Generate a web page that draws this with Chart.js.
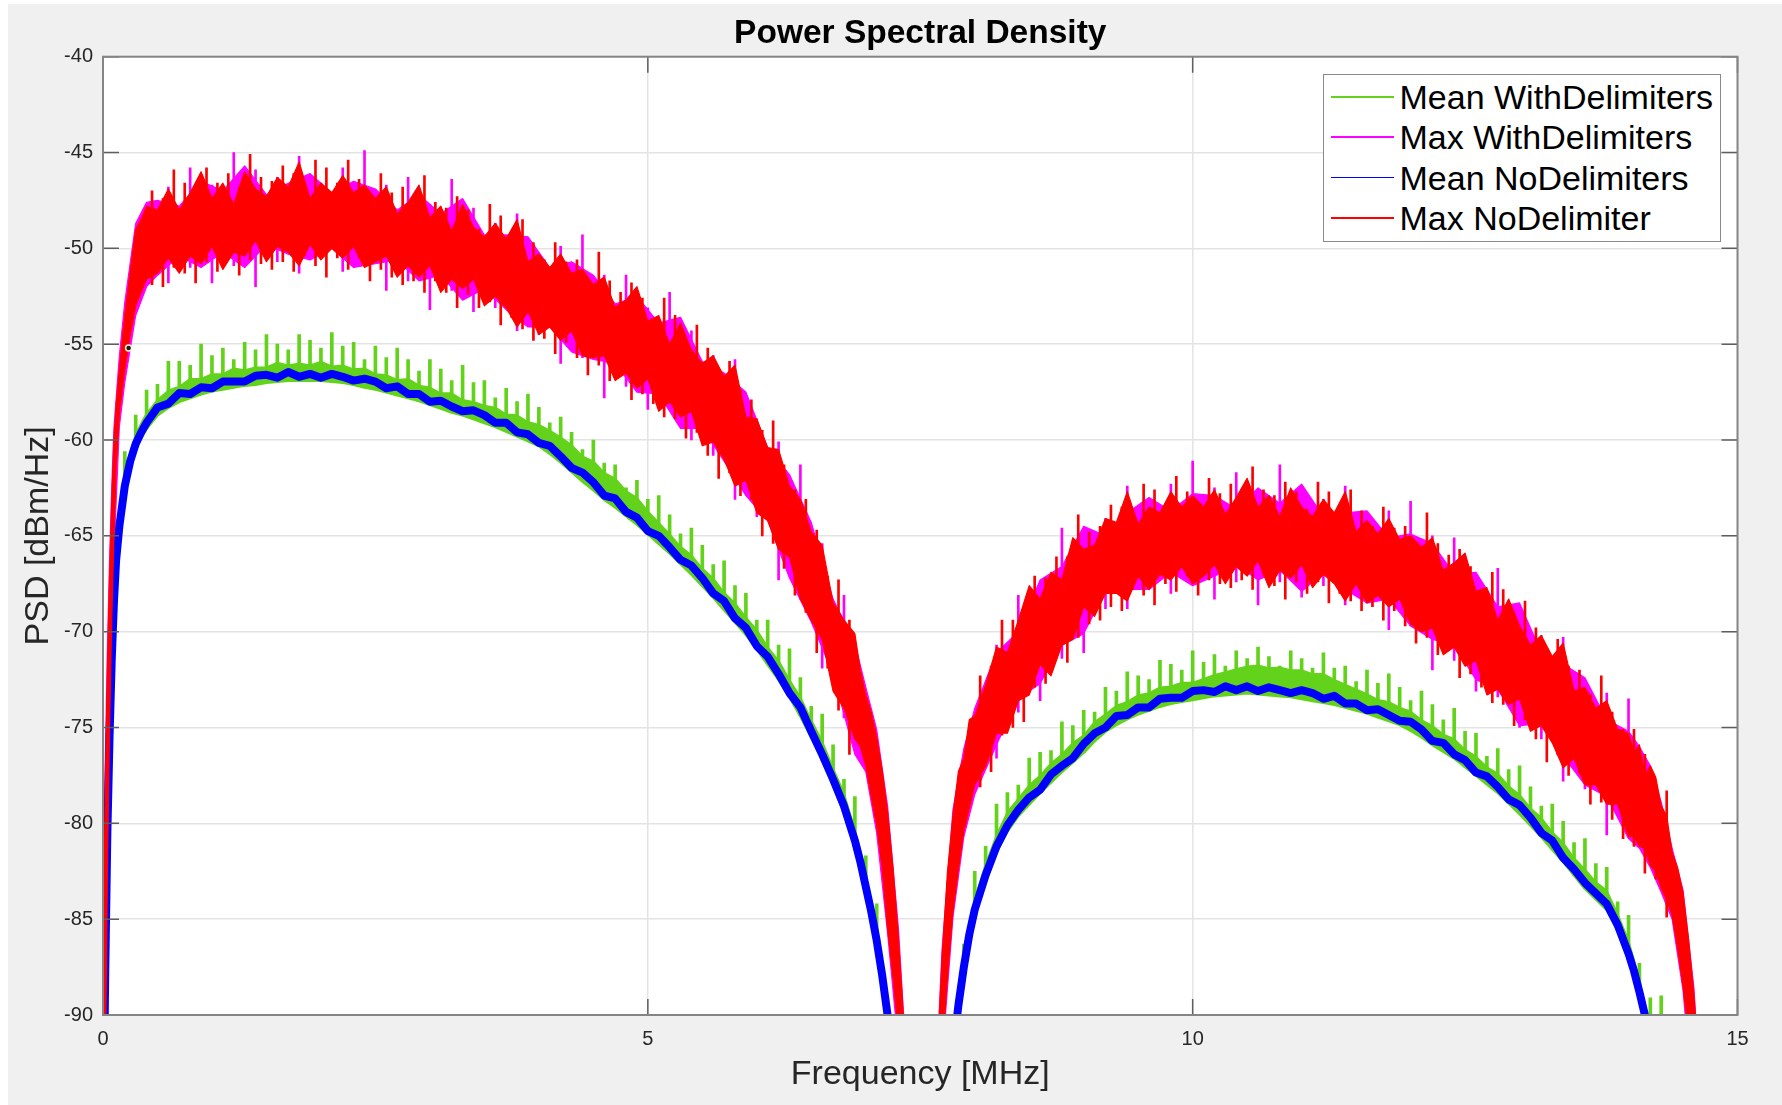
<!DOCTYPE html>
<html>
<head>
<meta charset="utf-8">
<script src="https://cdn.jsdelivr.net/npm/chart.js@4.4.1/dist/chart.umd.min.js"></script>
<style>
  html, body { margin: 0; padding: 0; background: #ffffff; }
  #fig { position: absolute; left: 8px; top: 4px; width: 1774px; height: 1101px; background: #f0f0f0; }
  #c { position: absolute; left: 0; top: 0; }
  #legend { position: absolute; left: 1323px; top: 74px; width: 396px; height: 166px; background: #ffffff;
            border: 1.5px solid #8a8a8a; font-family: 'Liberation Sans', Arial, Helvetica, sans-serif; font-size: 34px; color: #000; }
  .lrow { position: absolute; left: 0; width: 100%; height: 40px; }
  .lline { position: absolute; left: 6.5px; width: 63px; top: 19px; height: 1.6px; }
  .ltext { position: absolute; left: 75.5px; top: 0; line-height: 40px; white-space: nowrap; }
</style>
</head>
<body>
<div id="fig"></div>
<canvas id="c" width="1782" height="1105"></canvas>
<div id="legend"></div>
<script>
// ---------------- data ----------------
const freq = [
  0,0.02,0.04,0.06,0.08,0.1,0.12,0.15,0.2,0.25,0.3,0.35,0.4,
  0.5,0.6,0.7,0.8,0.9,1,1.1,1.2,1.3,1.4, 1.5,1.6,1.7,1.8,1.9,2,2.1,2.2,2.3,2.4,
  2.5,2.6,2.7,2.8,2.9,3,3.1,3.2,3.3,3.4, 3.5,3.6,3.7,3.8,3.9,4,4.1,4.2,4.3,4.4,
  4.5,4.6,4.7,4.8,4.9,5,5.1,5.2,5.3,5.4, 5.5,5.6,5.7,5.8,5.9,6,6.1,6.2,6.3,6.4,
  6.5,6.6,6.7,6.8,6.9,
  6.95,7,7.05,7.1,7.15,7.2,7.25,7.3,7.35,7.4,
  7.5,
  7.6,7.65,7.7,7.75,7.8,7.85,7.9,7.95,8,
  8.1,8.2,8.3,8.4,8.5,8.6,8.7,8.8,8.9,9, 9.1,9.2,9.3,9.4,9.5,9.6,9.7,9.8,9.9,10,
  10.1,10.2,10.3,10.4,10.5,10.6,10.7,10.8,10.9,11, 11.1,11.2,11.3,11.4,11.5,11.6,11.7,11.8,11.9,12,
  12.1,12.2,12.3,12.4,12.5,12.6,12.7,12.8,12.9,13, 13.1,13.2,13.3,13.4,13.5,13.6,13.7,13.8,13.9,14,
  14.05,14.1,14.15,14.2,14.25,14.3,14.35,14.4,14.45,14.5,14.55,14.6,14.65,14.7,
  14.8
];

// Max NoDelimiter : upper and lower edge of the noisy red trace
const maxNoHi = [
  -87.5,-78.6,-72.0,-67.1,-63.2,-60.0,-58.2,-56.3,-53.5,-51.2,-49.0,-48.5,-47.8,
  -48.0,-46.9,-48.0,-47.1,-46.0,-47.4,-46.6,-47.7,-46.0,-46.9,
  -47.3,-46.3,-46.8,-45.5,-47.4,-46.6,-47.1,-46.2,-47.1,-46.7,
  -47.4,-46.8,-48.2,-47.6,-46.7,-48.4,-47.8,-49.1,-47.7,-48.9,
  -49.4,-48.7,-49.5,-48.5,-50.7,-50.3,-51.0,-50.3,-51.3,-51.1,
  -51.9,-51.5,-53.1,-52.7,-52.0,-53.8,-53.5,-55.0,-53.9,-55.3,
  -56.0,-55.6,-56.7,-56.1,-58.8,-58.9,-60.4,-60.5,-62.4,-63.1,
  -64.8,-65.5,-68.5,-69.4,-70.1,
  -72.0,-73.3,-74.2,-75.5,-77.2,-79.4,-82.3,-86.0,-90.5,-95.5,
  -115,
  -100,-93,-87.0,-82.5,-79.6,-77.3,-76.6,-74.6,-74.4,
  -72.8,-70.8,-71.1,-69.4,-67.6,-68.3,-66.9,-67.3,-65.1,-65.7,
  -65.5,-64.1,-64.3,-62.7,-64.4,-63.5,-63.8,-62.7,-63.5,-62.9,
  -63.5,-62.6,-63.9,-63.0,-62.0,-63.5,-62.9,-64.0,-62.5,-63.5,
  -64.0,-63.1,-63.8,-62.7,-64.8,-64.2,-64.9,-64.1,-65.2,-65.0,
  -65.6,-65.1,-66.8,-66.4,-65.9,-67.9,-67.7,-69.4,-68.3,-69.7,
  -70.7,-70.2,-71.3,-70.6,-73.1,-72.9,-74.0,-73.6,-75.1,-75.3,
  -76.3,-75.9,-77.5,-77.0,-77.6,-79.1,-79.6,-81.5,-82.3,-83.6,-86.0,-88.9,-93.0,-98,
  -110
];
const maxNoLo = [
  -100,-93,-82.9,-75,-69.4,-65.1,-61.5,-58.6,-56.3,-54.5,-53.0,-52.3,-51.6,
  -51.3,-50.5,-51.3,-50.4,-50.8,-49.9,-51.1,-50.2,-50.4,-49.6,
  -50.7,-49.9,-50.2,-50.9,-49.8,-50.6,-50.0,-50.5,-49.9,-51.0,
  -50.7,-50.4,-51.5,-50.9,-51.5,-50.9,-52.3,-51.6,-52.1,-51.6,
  -53.0,-52.5,-53.1,-54.1,-53.3,-54.5,-54.1,-54.8,-54.3,-55.6,
  -55.7,-55.6,-56.9,-56.5,-57.3,-56.8,-58.5,-58.0,-58.8,-58.5,
  -60.3,-60.1,-61.0,-62.4,-62.1,-63.8,-64.2,-65.7,-66.1,-68.3,
  -69.4,-70.4,-73.1,-74.0,-75.6,
  -76.0,-77.0,-78.6,-80.1,-82.3,-85.5,-88.0,-91.0,-98,-104,
  -120,
  -110,-100,-92.0,-88.0,-84.6,-82.4,-80.4,-79.2,-78.0,
  -77.0,-75.3,-75.3,-73.6,-73.3,-71.7,-72.3,-70.7,-70.4,-68.7,
  -69.2,-68.0,-68.0,-68.4,-67.1,-67.8,-67.0,-67.3,-66.6,-67.5,
  -67.1,-66.5,-67.5,-66.6,-67.1,-66.3,-67.7,-66.8,-67.2,-66.5,
  -67.7,-67.0,-67.5,-68.4,-67.5,-68.5,-68.1,-68.7,-68.3,-69.6,
  -70.0,-69.8,-71.2,-70.8,-71.8,-71.5,-73.3,-73.0,-73.8,-73.5,
  -75.2,-74.9,-75.8,-77.1,-76.6,-78.0,-78.0,-79.0,-79.0,-80.7,
  -80.7,-81.2,-81.3,-82.2,-82.5,-83.4,-84.0,-84.8,-86.5,-88.5,-91.0,-95.0,-100,-105,
  -115
];
// Max NoDelimiter : individual noise spikes (low end, high end) between the samples above
const redSpikeFreq = [
  0.45,0.55,0.65,0.75,0.85,0.95,1.05,1.15,1.25,1.35,1.45,1.55,1.65,1.75,1.85,1.95,
  2.05,2.15,2.25,2.35,2.45,2.55,2.65,2.75,2.85,2.95,3.05,3.15,3.25,3.35,3.45,3.55,
  3.65,3.75,3.85,3.95,4.05,4.15,4.25,4.35,4.45,4.55,4.65,4.75,4.85,4.95,5.05,5.15,
  5.25,5.35,5.45,5.55,5.65,5.75,5.85,5.95,6.05,6.15,6.25,6.35,6.45,6.55,6.65,6.75,6.85,
  8.05,8.15,8.25,8.35,8.45,8.55,8.65,8.75,8.85,8.95,9.05,9.15,9.25,9.35,9.45,9.55,
  9.65,9.75,9.85,9.95,10.05,10.15,10.25,10.35,10.45,10.55,10.65,10.75,10.85,10.95,11.05,11.15,
  11.25,11.35,11.45,11.55,11.65,11.75,11.85,11.95,12.05,12.15,12.25,12.35,12.45,12.55,12.65,12.75,
  12.85,12.95,13.05,13.15,13.25,13.35,13.45,13.55,13.65,13.75,13.85,13.95,14.05,14.15,14.25,14.35
];
const redSpikeHi = [
  -47.0,-47.4,-45.9,-46.6,-47.1,-45.8,-46.6,-46.1,-46.8,-45.1,-46.3,-46.5,-45.7,-46.1,-46.9,-45.4,
  -45.8,-46.6,-45.4,-46.4,-47.2,-46.1,-47.1,-46.8,-47.7,-46.2,-47.6,-47.9,-47.3,-48.0,-49.0,-47.7,
  -48.3,-49.4,-48.5,-49.7,-50.6,-49.7,-50.7,-50.6,-51.6,-50.2,-51.7,-52.3,-51.8,-52.6,-53.7,-52.6,
  -53.5,-54.8,-54.0,-55.2,-56.4,-55.9,-57.4,-57.9,-59.5,-59.0,-61.3,-62.6,-63.1,-64.7,-67.1,-67.3,-69.4,
  -72.3,-71.8,-69.4,-69.4,-69.1,-67.1,-67.2,-66.1,-66.1,-63.9,-64.8,-64.5,-63.4,-63.5,-64.0,-62.3,
  -62.6,-63.3,-61.9,-62.7,-63.3,-62.0,-62.8,-62.3,-63.0,-61.4,-62.6,-62.9,-62.2,-62.7,-63.6,-62.2,
  -62.7,-63.7,-62.6,-63.7,-64.5,-63.5,-64.6,-64.5,-65.5,-63.8,-65.4,-66.0,-65.7,-66.6,-67.9,-66.9,
  -67.8,-69.2,-68.4,-69.8,-71.0,-70.4,-71.8,-72.0,-73.3,-72.3,-74.2,-75.1,-75.1,-76.4,-78.3,-78.3
];
const redSpikeLo = [
  -51.9,-52.0,-51.0,-51.3,-51.8,-50.7,-51.2,-50.4,-51.4,-50.6,-50.8,-51.1,-50.7,-51.2,-50.4,-50.9,
  -51.5,-50.5,-51.1,-50.5,-51.7,-51.1,-51.5,-51.9,-51.7,-52.3,-51.7,-52.3,-53.1,-52.4,-53.1,-52.8,
  -54.0,-53.6,-54.2,-54.8,-54.7,-55.5,-54.9,-55.7,-56.6,-56.1,-56.9,-56.6,-57.9,-57.6,-58.1,-58.8,
  -58.9,-59.9,-59.6,-60.8,-62.0,-61.7,-62.9,-63.1,-65.0,-65.4,-66.7,-68.1,-69.0,-71.1,-71.9,-74.1,-76.4,
  -78.1,-77.3,-75.4,-75.0,-74.7,-72.9,-72.7,-71.3,-71.6,-70.3,-69.6,-69.4,-68.7,-68.9,-67.8,-68.1,
  -68.6,-67.5,-67.9,-67.1,-68.1,-67.3,-67.5,-67.7,-67.3,-67.8,-67.0,-67.6,-68.3,-67.4,-68.0,-67.4,
  -68.5,-68.0,-68.4,-68.9,-68.7,-69.4,-68.9,-69.7,-70.6,-70.3,-71.2,-70.9,-72.4,-72.2,-72.9,-73.7,
  -73.8,-74.9,-74.6,-75.6,-76.8,-76.4,-77.5,-77.4,-79.0,-78.9,-79.8,-80.8,-81.2,-82.6,-82.9,-84.9
];

// Mean NoDelimiters (blue)
const meanNo = [
  -98,-88,-80.5,-75.5,-71.5,-68.5,-66.3,-64.5,-62.4,-61.1,-60.2,-59.6,-59.1,
  -58.3,-58.1,-57.55,-57.6,-57.25,-57.3,-56.95,-56.95,-56.95,-56.65,
  -56.6,-56.75,-56.45,-56.7,-56.55,-56.75,-56.55,-56.7,-56.9,-56.8,
  -56.95,-57.3,-57.2,-57.6,-57.6,-58.0,-57.95,-58.25,-58.5,-58.45,
  -58.7,-59.1,-59.1,-59.6,-59.7,-60.15,-60.3,-60.85,-61.45,-61.7,
  -62.2,-62.9,-63.05,-63.75,-64.05,-64.75,-65.0,-65.6,-66.25,-66.55,
  -67.2,-68.0,-68.4,-69.3,-69.8,-70.75,-71.3,-72.2,-73.2,-73.95,
  -75.2,-76.4,-77.7,-79.1,-80.9,
  -82.0,-83.3,-84.6,-86.1,-87.9,-90,-92.5,-95.5,-99,-103,
  -120,
  -118,-106,-99,-95.5,-92,-89.5,-87.5,-85.8,-84.5,
  -82.7,-81.2,-80.1,-79.3,-78.65,-78.25,-77.45,-77.0,-76.6,-75.85,
  -75.3,-75.0,-74.4,-74.35,-73.95,-73.95,-73.5,-73.45,-73.45,-73.1,
  -73.05,-73.15,-72.85,-73.05,-72.85,-73.1,-72.9,-73.05,-73.2,-73.05,
  -73.2,-73.5,-73.35,-73.75,-73.75,-74.1,-74.05,-74.35,-74.65,-74.7,
  -75.1,-75.7,-75.8,-76.4,-76.7,-77.35,-77.55,-78.1,-78.75,-79.05,
  -79.7,-80.5,-80.9,-81.8,-82.4,-83.1,-83.65,-84.2,-85.3,-86.8,
  -87.7,-88.8,-90,-91.3,-92.8,-94.5,-96.5,-98.5,-101,-104,-107,-110,-113,-116,
  -120
];

// Mean WithDelimiters (green): floor and top of the dense part of the trace
const meanWithBase = [
  -98.3,-88.3,-80.8,-75.8,-71.8,-68.8,-66.6,-64.8,-62.7,-61.4,-60.5,-59.9,-59.4,
  -58.7,-58.3,-58.0,-57.8,-57.6,-57.45,-57.35,-57.25,-57.15,-57.1,
  -57.0,-56.95,-56.9,-56.9,-56.9,-56.9,-56.95,-57.0,-57.1,-57.25,
  -57.35,-57.5,-57.65,-57.8,-57.95,-58.15,-58.35,-58.55,-58.7,-58.9,
  -59.1,-59.3,-59.55,-59.8,-60.05,-60.3,-60.7,-61.15,-61.65,-62.15,
  -62.6,-63.1,-63.5,-63.95,-64.4,-64.9,-65.4,-65.9,-66.45,-67.0,
  -67.6,-68.2,-68.85,-69.5,-70.15,-70.9,-71.7,-72.5,-73.4,-74.4,
  -75.5,-76.7,-78.0,-79.4,-81.2,
  -82.3,-83.6,-84.9,-86.4,-88.2,-90.3,-92.8,-95.8,-99.3,-103.3,
  -120,
  -118,-106.3,-99.3,-95.8,-92.3,-89.8,-87.8,-86.1,-84.8,
  -83.0,-81.5,-80.4,-79.6,-79.0,-78.4,-77.85,-77.3,-76.8,-76.3,
  -75.7,-75.2,-74.85,-74.55,-74.3,-74.1,-73.9,-73.75,-73.65,-73.55,
  -73.45,-73.35,-73.3,-73.25,-73.2,-73.25,-73.3,-73.35,-73.4,-73.5,
  -73.6,-73.7,-73.8,-73.95,-74.1,-74.25,-74.45,-74.65,-74.85,-75.15,
  -75.5,-75.9,-76.25,-76.6,-77.05,-77.5,-77.95,-78.4,-78.95,-79.5,
  -80.1,-80.7,-81.35,-82.0,-82.7,-83.4,-83.95,-84.5,-85.6,-87.1,
  -88.0,-89.1,-90.3,-91.6,-93.1,-94.8,-96.8,-98.8,-101.3,-104.3,-107.3,-110.3,-113.3,-116.3,
  -120
];
const meanWithTop = [
  -97.5,-87.5,-80.0,-75.0,-71.0,-68.0,-65.8,-64.0,-61.9,-60.6,-59.7,-59.1,-58.6,
  -57.9,-57.4,-57.2,-56.8,-56.8,-56.55,-56.55,-56.25,-56.35,-56.2,
  -56.2,-55.95,-56.1,-56.0,-56.1,-55.9,-56.15,-56.1,-56.3,-56.25,
  -56.55,-56.6,-56.85,-56.8,-57.15,-57.25,-57.55,-57.55,-57.9,-58.0,
  -58.2,-58.3,-58.65,-58.7,-59.05,-59.2,-59.5,-59.85,-60.25,-60.85,
  -61.1,-61.7,-62.0,-62.65,-63.0,-63.7,-64.3,-64.9,-65.55,-66.0,
  -66.7,-67.2,-67.95,-68.5,-69.25,-69.9,-70.8,-71.5,-72.5,-73.4,
  -74.6,-75.7,-77.1,-78.4,-80.3,
  -81.4,-82.7,-84.0,-85.5,-87.3,-89.4,-91.9,-94.9,-98.4,-102.4,
  -120,
  -118,-105.4,-98.4,-94.9,-91.4,-88.9,-86.9,-85.2,-83.9,
  -82.1,-80.6,-79.4,-78.7,-78.0,-77.5,-76.85,-76.4,-75.8,-75.4,
  -74.7,-74.3,-73.85,-73.65,-73.3,-73.2,-72.9,-72.85,-72.65,-72.65,
  -72.45,-72.25,-72.1,-71.95,-71.8,-71.75,-71.9,-71.85,-72.0,-72.0,
  -72.2,-72.2,-72.5,-72.75,-73.0,-73.25,-73.55,-73.65,-73.95,-74.15,
  -74.6,-74.9,-75.35,-75.6,-76.15,-76.5,-77.05,-77.4,-78.05,-78.5,
  -79.2,-79.7,-80.45,-81.0,-81.8,-82.4,-83.05,-83.5,-84.7,-86.1,
  -87.1,-88.2,-89.4,-90.7,-92.2,-93.9,-95.9,-97.9,-100.4,-103.4,-106.4,-109.4,-112.4,-115.4,
  -120
];

// Mean WithDelimiters (green): periodic comb spikes
const spikeFreq = [
  0.2,0.3,0.4,
  0.5,0.6,0.7,0.8,0.9,1,1.1,1.2,1.3,1.4, 1.5,1.6,1.7,1.8,1.9,2,2.1,2.2,2.3,2.4,
  2.5,2.6,2.7,2.8,2.9,3,3.1,3.2,3.3,3.4, 3.5,3.6,3.7,3.8,3.9,4,4.1,4.2,4.3,4.4,
  4.5,4.6,4.7,4.8,4.9,5,5.1,5.2,5.3,5.4, 5.5,5.6,5.7,5.8,5.9,6,6.1,6.2,6.3,6.4,
  6.5,6.6,6.7,6.8,6.9,7,7.1,
  7.9,8,
  8.1,8.2,8.3,8.4,8.5,8.6,8.7,8.8,8.9,9, 9.1,9.2,9.3,9.4,9.5,9.6,9.7,9.8,9.9,10,
  10.1,10.2,10.3,10.4,10.5,10.6,10.7,10.8,10.9,11, 11.1,11.2,11.3,11.4,11.5,11.6,11.7,11.8,11.9,12,
  12.1,12.2,12.3,12.4,12.5,12.6,12.7,12.8,12.9,13, 13.1,13.2,13.3,13.4,13.5,13.6,13.7,13.8,13.9,14,
  14.1,14.2,14.3
];
const spikeTop = [
  -60.6,-58.7,-57.4,
  -57.1,-55.9,-55.9,-56.1,-55.0,-55.6,-55.2,-55.8,-54.9,-55.3,
  -54.5,-55.0,-55.3,-54.5,-54.8,-55.2,-54.4,-55.1,-54.9,-55.8,
  -55.1,-55.7,-55.2,-55.8,-56.4,-55.8,-56.3,-56.9,-56.1,-57.0,
  -56.9,-57.8,-57.3,-58.0,-57.6,-58.3,-59.1,-58.8,-59.6,-60.5,
  -60.0,-61.2,-61.3,-62.5,-62.1,-63.1,-62.9,-63.9,-64.9,-64.6,
  -65.5,-66.5,-66.3,-67.6,-68.0,-69.4,-69.4,-70.7,-70.9,-72.4,
  -73.9,-74.3,-75.9,-77.7,-78.6,-81.7,-84.2,
  -86.3,-82.5,
  -81.2,-79.0,-78.4,-78.0,-76.6,-76.3,-76.2,-74.7,-74.9,-74.1,
  -74.2,-72.9,-73.1,-72.1,-72.3,-72.5,-71.5,-71.7,-72.0,-71.0,
  -71.6,-71.2,-71.8,-71.0,-71.4,-70.8,-71.3,-71.8,-71.0,-71.4,
  -71.9,-71.1,-71.9,-71.8,-72.6,-72.0,-72.7,-72.2,-72.9,-73.6,
  -73.1,-73.8,-74.6,-74.0,-75.2,-75.3,-76.5,-76.1,-77.2,-77.0,
  -78.1,-79.1,-79.0,-79.9,-81.0,-80.8,-82.1,-82.3,-84.1,-84.8,
  -87.3,-89.1,-89.0
];

// Max WithDelimiters (magenta): upper and lower edge, on its own coarser grid
const magFreq = [
  0,0.02,0.04,0.06,0.08,0.1,0.15,0.2,0.3,0.4,0.5,
  0.7,0.9,1.1,1.3,1.5,1.7,1.9,2.1,2.3,2.5,2.7,2.9,3.1,3.3,3.5,3.7,3.9,4.1,4.3,4.5,
  4.7,4.9,5.1,5.3,5.5,5.7,5.9,6.1,6.3,6.5,6.7,6.9,
  7,7.1,7.2,7.3,7.4,7.5,7.6,7.7,7.8,7.9,8,
  8.2,8.4,8.6,8.8,9,9.2,9.4,9.6,9.8,10,10.2,10.4,10.6,10.8,11,
  11.2,11.4,11.6,11.8,12,12.2,12.4,12.6,12.8,13,13.2,13.4,13.6,13.8,14,
  14.1,14.2,14.3,14.4,14.5,14.6,14.7,14.8
];
const maxWithHi = [
  -86,-77,-71,-66.3,-62.5,-59.4,-55.6,-52.8,-48.7,-47.6,-47.5,
  -47.8,-46.5,-47.0,-45.7,-47.2,-46.6,-46.1,-47.1,-46.5,-46.9,-48.0,-47.2,-48.2,-47.4,-49.3,-49.3,-49.4,-51.0,-50.7,-51.4,
  -52.9,-52.5,-53.9,-53.6,-55.9,-56.5,-57.5,-60.4,-61.8,-64.3,-68.3,-70.6,
  -72.9,-75.1,-79.1,-85.5,-95,-115,-99,-86.6,-79.3,-76.1,-74.0,
  -71.1,-70.0,-67.3,-66.6,-64.5,-65.0,-63.8,-63.0,-63.7,-62.8,-62.9,-63.6,-62.5,-63.3,-62.3,
  -64.0,-63.8,-63.7,-65.1,-64.9,-65.4,-67.0,-66.9,-68.7,-68.5,-71.1,-71.7,-72.4,-74.6,-75.2,
  -76.0,-77.0,-78.9,-81.3,-83.5,-88.6,-97.5,-110
];
const maxWithLo = [
  -100,-96,-85,-76,-70.5,-66,-59.3,-57.0,-53.5,-52.0,-51.4,
  -50.4,-51.0,-50.2,-51.0,-49.8,-50.3,-50.6,-50.0,-51.0,-50.8,-50.6,-51.7,-51.4,-52.7,-52.1,-53.2,-54.1,-54.1,-55.4,-55.8,
  -56.0,-57.5,-57.6,-59.4,-59.4,-61.1,-62.9,-64.2,-67.2,-69.5,-72.2,-76.4,
  -77.3,-80.5,-85.7,-91.7,-104,-120,-110,-92.3,-84.9,-80.7,-78.5,
  -75.9,-73.5,-72.7,-70.7,-70.1,-67.9,-67.8,-67.8,-66.9,-67.6,-67.1,-66.5,-67.3,-66.8,-67.9,
  -66.9,-67.8,-68.5,-68.3,-69.7,-70.4,-70.7,-72.5,-73.0,-74.9,-74.8,-76.5,-78.0,-78.6,-80.8,
  -81.3,-82.3,-83.6,-85.0,-88.7,-95.2,-106,-116
];
// Max WithDelimiters : individual noise spikes
const magSpikeFreq = [
  0.6,0.8,1,1.2,1.4,1.6,1.8,2,2.2,2.4,2.6,2.8,3,3.2,3.4,3.6,3.8,4,4.2,4.4,4.6,4.8,5,5.2,5.4,5.6,5.8,6,6.2,6.4,6.6,6.8,
  8.2,8.4,8.6,8.8,9,9.2,9.4,9.6,9.8,10,10.2,10.4,10.6,10.8,11,11.2,11.4,11.6,11.8,12,12.2,12.4,12.6,12.8,13,13.2,13.4,13.6,13.8,14
];
const magSpikeHi = [
  -46.8,-45.8,-46.7,-45.0,-45.9,-46.3,-45.2,-46.6,-45.8,-44.9,-46.7,-46.3,-47.7,-46.4,-47.9,-48.7,
  -48.2,-50.3,-49.9,-49.3,-51.4,-51.4,-53.1,-52.3,-54.3,-55.6,-55.8,-58.9,-60.1,-61.3,-65.4,-68.1,
  -70.7,-68.1,-67.6,-64.6,-64.7,-64.1,-62.4,-63.5,-62.3,-61.1,-62.5,-61.7,-62.8,-61.3,-62.5,
  -63.1,-62.4,-64.2,-63.7,-63.2,-65.0,-65.1,-67.2,-66.7,-68.7,-70.2,-70.3,-72.9,-73.2,-73.5
];
const magSpikeLo = [
  -51.8,-51.0,-51.8,-50.9,-52.0,-50.7,-51.3,-50.5,-51.2,-50.9,-52.2,-51.7,-53.2,-52.2,-53.3,-53.1,
  -54.3,-54.5,-56.0,-55.7,-57.8,-57.2,-58.4,-58.4,-60.0,-60.8,-63.1,-64.0,-67.3,-68.3,-71.9,-74.5,
  -76.6,-74.2,-73.6,-71.4,-71.1,-68.8,-68.8,-67.7,-68.0,-67.4,-68.3,-67.4,-68.6,-67.4,-68.2,
  -67.6,-68.6,-68.5,-69.9,-69.7,-72.0,-71.5,-73.1,-73.4,-75.0,-75.6,-77.8,-78.2,-80.6,-80.7
];

// data tip marker on the red trace
const tipFreq = [0.235];
const tipPSD = [-55.2];

const xTicks = [0, 5, 10, 15];
const yTicks = [-90, -85, -80, -75, -70, -65, -60, -55, -50, -45, -40];

const seriesNames = ['Mean WithDelimiters', 'Max WithDelimiters', 'Mean NoDelimiters', 'Max NoDelimiter'];

// ---------------- styles ----------------
const GREEN = '#62d31a', MAGENTA = '#ff00ff', BLUE = '#0000ff', RED = '#ff0000';
const FONT = "'Liberation Sans', Arial, Helvetica, sans-serif";

const pts = (xs, ys) => xs.map((x, i) => ({ x: x, y: ys[i] }));
const bars = (xs, lo, hi) => xs.map((x, i) => ({ x: x, y: [lo[i], hi[i]] }));
const spikeData = spikeFreq.map((f, i) => ({ x: f, y: [meanWithBase[freq.indexOf(f)], spikeTop[i]] }));

const lineBase = { type: 'line', pointRadius: 0, pointHoverRadius: 0, pointHitRadius: 0, tension: 0,
                   borderJoinStyle: 'round', borderCapStyle: 'round', fill: false };
const barBase = { type: 'bar', borderWidth: 0, grouped: false };

const datasets = [
  /*0*/ Object.assign({}, barBase, { label: '_gSpikes', data: spikeData, backgroundColor: GREEN, barThickness: 3, order: 6 }),
  /*1*/ Object.assign({}, lineBase, { label: seriesNames[0], data: pts(freq, meanWithBase), borderColor: GREEN, borderWidth: 3, order: 5 }),
  /*2*/ Object.assign({}, lineBase, { label: '_greenTop', data: pts(freq, meanWithTop), borderColor: GREEN, borderWidth: 1.5,
          fill: 1, backgroundColor: GREEN, order: 5 }),
  /*3*/ Object.assign({}, lineBase, { label: '_magLo', data: pts(magFreq, maxWithLo), borderColor: MAGENTA, borderWidth: 1.2, order: 4 }),
  /*4*/ Object.assign({}, lineBase, { label: seriesNames[1], data: pts(magFreq, maxWithHi), borderColor: MAGENTA, borderWidth: 1.2,
          fill: 3, backgroundColor: MAGENTA, order: 4 }),
  /*5*/ Object.assign({}, barBase, { label: '_mSpikes', data: bars(magSpikeFreq, magSpikeLo, magSpikeHi), backgroundColor: MAGENTA,
          barThickness: 2, order: 4 }),
  /*6*/ Object.assign({}, lineBase, { label: seriesNames[2], data: pts(freq, meanNo), borderColor: BLUE, borderWidth: 8, order: 3 }),
  /*7*/ Object.assign({}, lineBase, { label: '_redLo', data: pts(freq, maxNoLo), borderColor: RED, borderWidth: 1.2, order: 2 }),
  /*8*/ Object.assign({}, lineBase, { label: seriesNames[3], data: pts(freq, maxNoHi), borderColor: RED, borderWidth: 1.2,
          fill: 7, backgroundColor: RED, order: 2 }),
  /*9*/ Object.assign({}, barBase, { label: '_rSpikes', data: bars(redSpikeFreq, redSpikeLo, redSpikeHi), backgroundColor: RED,
          barThickness: 2, order: 2 }),
  /*10*/ Object.assign({}, lineBase, { label: '_tip', data: pts(tipFreq, tipPSD), showLine: false, pointRadius: 3,
          pointBackgroundColor: '#1b1b1b', pointBorderColor: '#fff6cf', pointBorderWidth: 1.5, order: 1 })
];

const plotBg = {
  id: 'plotBg',
  beforeDraw(chart) {
    const a = chart.chartArea, c = chart.ctx;
    c.save(); c.fillStyle = '#ffffff'; c.fillRect(a.left, a.top, a.right - a.left, a.bottom - a.top); c.restore();
  }
};
const frame = {
  id: 'frame',
  afterDatasetsDraw(chart) {
    const a = chart.chartArea, c = chart.ctx, xs = chart.scales.x, ys = chart.scales.y;
    const TL = 16;
    c.save();
    c.strokeStyle = '#5e5e5e'; c.lineWidth = 1.5;
    c.beginPath();
    xTicks.forEach(v => { const p = xs.getPixelForValue(v);
      c.moveTo(p, a.bottom); c.lineTo(p, a.bottom - TL); c.moveTo(p, a.top); c.lineTo(p, a.top + TL); });
    yTicks.forEach(v => { const p = ys.getPixelForValue(v);
      c.moveTo(a.left, p); c.lineTo(a.left + TL, p); c.moveTo(a.right, p); c.lineTo(a.right - TL, p); });
    c.stroke();
    c.strokeStyle = '#858585'; c.lineWidth = 2;
    c.strokeRect(a.left, a.top, a.right - a.left, a.bottom - a.top);
    c.restore();
  }
};

const chart = new Chart(document.getElementById('c'), {
  type: 'line',
  data: { datasets: datasets },
  options: {
    responsive: false, animation: false, devicePixelRatio: 1, normalized: true,
    events: [],
    layout: { padding: { left: 0, right: 44.5, top: 0, bottom: 0 } },
    scales: {
      x: {
        type: 'linear', min: 0, max: 15, offset: false,
        afterBuildTicks: s => { s.ticks = xTicks.map(v => ({ value: v })); },
        ticks: { stepSize: 5, color: '#262626', font: { family: FONT, size: 20 }, padding: 12, maxRotation: 0, autoSkip: false },
        grid: { color: '#e3e3e3', lineWidth: 1.5, drawTicks: false, offset: false },
        border: { display: false },
        title: { display: true, text: 'Frequency [MHz]', color: '#262626', font: { family: FONT, size: 34 },
                 padding: { top: 0, bottom: 10 } },
        afterFit: s => { s.height = 90; }
      },
      y: {
        type: 'linear', min: -90, max: -40,
        afterBuildTicks: s => { s.ticks = yTicks.map(v => ({ value: v })); },
        ticks: { stepSize: 5, color: '#262626', font: { family: FONT, size: 20 }, padding: 10, autoSkip: false },
        grid: { color: '#e3e3e3', lineWidth: 1.5, drawTicks: false, offset: false },
        border: { display: false },
        title: { display: true, text: 'PSD [dBm/Hz]', color: '#262626', font: { family: FONT, size: 34 },
                 padding: { top: 18.5, bottom: 0 } },
        afterFit: s => { s.width = 103; }
      }
    },
    plugins: {
      legend: { display: false },
      tooltip: { enabled: false },
      title: { display: true, text: 'Power Spectral Density', color: '#000000', fullSize: false,
               font: { family: FONT, size: 33.5, weight: 'bold' }, padding: { top: 14, bottom: 2.5 } }
    }
  },
  plugins: [plotBg, frame]
});

// MATLAB-style legend box built from the chart's named datasets
const leg = document.getElementById('legend');
const named = chart.data.datasets.filter(d => d.label && d.label[0] !== '_');
const rowCenters = [22.2, 62.2, 102.8, 143.2];
named.forEach((d, i) => {
  const row = document.createElement('div');
  row.className = 'lrow';
  row.style.top = (rowCenters[i] - 20) + 'px';
  const ln = document.createElement('div');
  ln.className = 'lline'; ln.style.background = d.borderColor;
  const tx = document.createElement('div');
  tx.className = 'ltext'; tx.textContent = d.label;
  row.appendChild(ln); row.appendChild(tx); leg.appendChild(row);
});
</script>
</body>
</html>
